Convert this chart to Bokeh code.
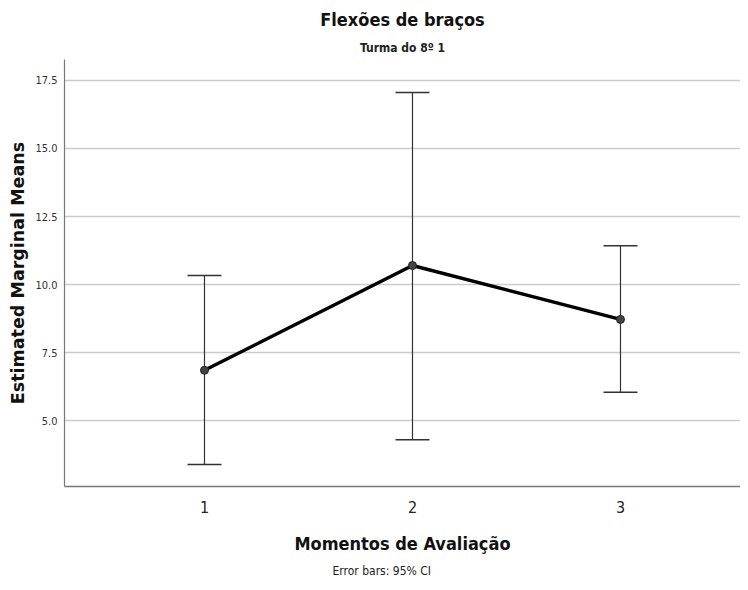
from bokeh.plotting import figure
from bokeh.models import (ColumnDataSource, Whisker, TeeHead, FixedTicker,
                          PrintfTickFormatter, Title, Range1d)
from bokeh.embed import file_html
from bokeh.resources import INLINE

# ---- data ----
moments = [1, 2, 3]
means = [6.85, 10.70, 8.72]
ci_lower = [3.39, 4.30, 6.04]
ci_upper = [10.33, 17.06, 11.43]
y_ticks = [5.0, 7.5, 10.0, 12.5, 15.0, 17.5]
x_ticks = [1, 2, 3]

title_text = "Flexões de braços"
subtitle_text = "Turma do 8º 1"
x_label = "Momentos de Avaliação"
y_label = "Estimated Marginal Means"
footnote = "Error bars: 95% CI"

NARROW = "'DejaVu Sans Condensed', 'DejaVu Sans', sans-serif"

source = ColumnDataSource(dict(x=moments, y=means, lower=ci_lower, upper=ci_upper))

p = figure(width=740, height=582, output_backend="svg", toolbar_location=None,
           x_range=Range1d(0.327, 3.577), y_range=Range1d(2.58, 18.27),
           min_border_left=64, min_border_right=0, min_border_top=59,
           min_border_bottom=95)
p.outline_line_color = None
p.background_fill_color = "white"
p.border_fill_color = "white"

# titles (later-added are further from frame)
p.add_layout(Title(text=subtitle_text, align="center", text_font=NARROW,
                   text_font_size="12px", text_font_style="bold",
                   text_color="#222222", standoff=9), "above")
p.add_layout(Title(text=title_text, align="center", text_font=NARROW,
                   text_font_size="18px", text_font_style="bold",
                   text_color="#111111", standoff=9), "above")
p.add_layout(Title(text=footnote, align="left", text_font=NARROW,
                   text_font_size="12px", text_font_style="normal",
                   text_color="#222222", offset=268, standoff=10,
                   text_line_height=1.0), "below")

# grid
p.xgrid.grid_line_color = None
p.ygrid.grid_line_color = "#cccccc"
p.ygrid.grid_line_width = 1.5
p.ygrid.ticker = FixedTicker(ticks=y_ticks)

# y axis
p.yaxis.ticker = FixedTicker(ticks=y_ticks)
p.yaxis.formatter = PrintfTickFormatter(format="%.1f")
p.yaxis.axis_label = y_label
p.yaxis.axis_label_text_font = "DejaVu Sans"
p.yaxis.axis_label_text_font_size = "17.5px"
p.yaxis.axis_label_text_font_style = "bold"
p.yaxis.axis_label_text_color = "#111111"
p.yaxis.axis_label_standoff = 4
p.yaxis.major_label_text_font = NARROW
p.yaxis.major_label_text_font_size = "11px"
p.yaxis.major_label_text_color = "#333333"
p.yaxis.major_label_standoff = 1
p.yaxis.axis_line_color = "#777777"
p.yaxis.axis_line_width = 1.2
p.yaxis.major_tick_line_color = None
p.yaxis.minor_tick_line_color = None

# x axis
p.xaxis.ticker = FixedTicker(ticks=x_ticks)
p.xaxis.axis_label = x_label
p.xaxis.axis_label_text_font = NARROW
p.xaxis.axis_label_text_font_size = "18px"
p.xaxis.axis_label_text_font_style = "bold"
p.xaxis.axis_label_text_color = "#111111"
p.xaxis.axis_label_standoff = 17
p.xaxis.major_label_text_font = NARROW
p.xaxis.major_label_text_font_size = "16px"
p.xaxis.major_label_text_color = "#222222"
p.xaxis.major_label_standoff = 8
p.xaxis.axis_line_color = "#777777"
p.xaxis.axis_line_width = 1.5
p.xaxis.major_tick_line_color = None
p.xaxis.minor_tick_line_color = None

# error bars
whisker = Whisker(base="x", lower="lower", upper="upper", source=source,
                  line_color="#333333", line_width=1.2,
                  upper_head=TeeHead(size=34, line_color="#333333", line_width=1.5),
                  lower_head=TeeHead(size=34, line_color="#333333", line_width=1.5))
p.add_layout(whisker)

# mean line + markers
p.line("x", "y", source=source, line_color="black", line_width=3.5)
p.scatter("x", "y", source=source, size=8, fill_color="#444444",
          line_color="#222222", line_width=1)

open("out.html", "w").write(file_html(p, INLINE))
